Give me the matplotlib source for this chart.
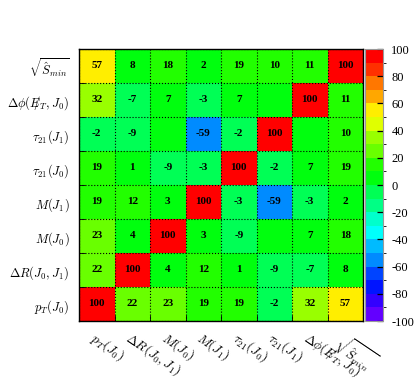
import colorsys
import numpy as np
import matplotlib
matplotlib.use("Agg")
import matplotlib.pyplot as plt
from matplotlib.colors import ListedColormap, BoundaryNorm

plt.rcParams['mathtext.fontset'] = 'cm'

# variables (bottom->top on y, left->right on x)
variables = [r'$p_T(J_0)$', r'$\Delta R(J_0,J_1)$', r'$M(J_0)$', r'$M(J_1)$',
             r'$\tau_{21}(J_0)$', r'$\tau_{21}(J_1)$',
             r'$\Delta\phi(E\!\!\!/_T,J_0)$', r'$\sqrt{\hat{S}_{min}}$']

# correlation (%) ; row = y variable, col = x variable
corr_pT = [100, 22, 23, 19, 19, -2, 32, 57]
corr_dR = [22, 100, 4, 12, 1, -9, -7, 8]
corr_MJ0 = [23, 4, 100, 3, -9, 0, 7, 18]
corr_MJ1 = [19, 12, 3, 100, -3, -59, -3, 2]
corr_tauJ0 = [19, 1, -9, -3, 100, -2, 7, 19]
corr_tauJ1 = [-2, -9, 0, -59, -2, 100, 0, 10]
corr_dphi = [32, -7, 7, -3, 7, 0, 100, 11]
corr_sqrtS = [57, 8, 18, 2, 19, 10, 11, 100]

corr = np.array([corr_pT, corr_dR, corr_MJ0, corr_MJ1,
                 corr_tauJ0, corr_tauJ1, corr_dphi, corr_sqrtS])

# ROOT "pretty" palette, 20 contours
ncont = 20
cols = []
for k in range(ncont):
    idx = int((k + 0.99) * 50 / ncont)
    if idx >= 49:
        cols.append((1.0, 0.0, 0.0))
    else:
        hue = 280 - (idx + 1) * 280 / 50
        cols.append(colorsys.hls_to_rgb(hue / 360.0, 0.5, 1.0))
cmap = ListedColormap(cols)
levels = np.linspace(-100, 100, ncont + 1)
norm = BoundaryNorm(levels, cmap.N)

fig = plt.figure(figsize=(4.15, 3.78), dpi=100)
W, H = 415.0, 378.0
ax = fig.add_axes([79 / W, 1 - 321 / H, 284 / W, 272 / H])
cax = fig.add_axes([365 / W, 1 - 321 / H, 18 / W, 272 / H])

n = len(variables)
mesh = ax.pcolormesh(np.arange(n + 1), np.arange(n + 1), corr, cmap=cmap, norm=norm)

# ROOT TEXT option: zero cells get no label
for i in range(n):
    for j in range(n):
        v = corr[i, j]
        if v != 0:
            ax.text(j + 0.5, i + 0.5, str(v), ha='center', va='center',
                    fontsize=8, fontweight='bold', family='Liberation Serif')

ax.set_xlim(0, n)
ax.set_ylim(0, n)
ax.set_xticks(np.arange(n) + 0.5)
ax.set_yticks(np.arange(n) + 0.5)
ax.set_xticklabels(variables, rotation=-34, ha='left', va='top',
                   rotation_mode='anchor', fontsize=9.5)
ax.set_yticklabels(variables, fontsize=9)
ax.tick_params(axis='x', which='major', length=0, pad=6)
ax.tick_params(axis='y', which='major', length=0, pad=7)
ax.set_xticks(np.arange(n + 1), minor=True)
ax.set_yticks(np.arange(n + 1), minor=True)
ax.tick_params(axis='both', which='minor', direction='in', length=4,
               top=False, right=False)
ax.grid(which='minor', color='black', linestyle=':', linewidth=0.8)
for s in ax.spines.values():
    s.set_linewidth(1.0)

cb = fig.colorbar(mesh, cax=cax, ticks=np.arange(-100, 101, 20))
cb.outline.set_edgecolor('#999999')
cb.outline.set_linewidth(0.8)
cax.tick_params(direction='in', length=4, width=0.9, pad=6, labelsize=9)
cax.set_yticklabels([str(t) for t in range(-100, 101, 20)], family='Liberation Serif')

fig.savefig('out.png', dpi=100)
